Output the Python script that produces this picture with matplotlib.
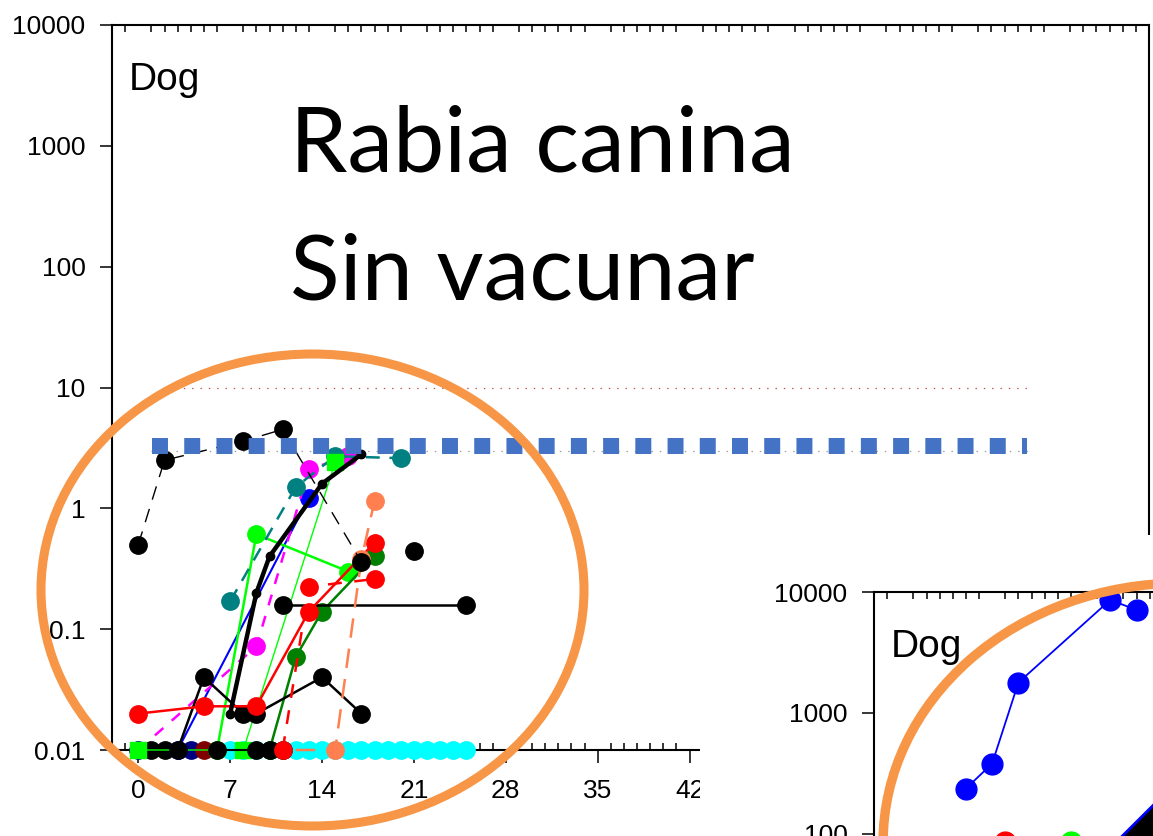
import matplotlib
matplotlib.use("Agg")
import matplotlib.pyplot as plt
import matplotlib.ticker as mticker
from matplotlib.patches import Ellipse, Rectangle, Polygon

plt.rcParams['font.family'] = ['Liberation Sans', 'DejaVu Sans']
plt.rcParams['lines.scale_dashes'] = False

W, H, DPI = 1153, 836, 100

# ---------------- data ----------------
x_major = [0, 7, 14, 21, 28, 35, 42, 49, 56, 63, 70]
x_labels = ['0', '7', '14', '21', '28', '35', '42', '49', '56', '63', '70']
y_major = [0.01, 0.1, 1, 10, 100, 1000, 10000]
y_labels = ['0.01', '0.1', '1', '10', '100', '1000', '10000']
inset_y_major = [100, 1000, 10000]
inset_y_labels = ['100', '1000', '10000']

bk_dash_x = [0, 2, 8, 11, 17]
bk_dash_y = [0.5, 2.5, 3.6, 4.5, 0.36]
bk_thick_x = [7, 9, 10, 14, 17]
bk_thick_y = [0.02, 0.2, 0.4, 1.6, 2.8]
bk_low_x = [3, 5, 8, 9, 14, 17]
bk_low_y = [0.01, 0.04, 0.02, 0.02, 0.04, 0.02]
bk_flat_x = [11, 25]
bk_flat_y = [0.16, 0.16]
bk_base_x = [6, 9, 10, 11]
bk_base_y = [0.01, 0.01, 0.01, 0.01]
bk_early_x = [1, 2]
bk_early_y = [0.01, 0.01]
bk_single_x = [21]
bk_single_y = [0.44]
red_a_x = [0, 5, 9, 13, 18]
red_a_y = [0.02, 0.023, 0.023, 0.14, 0.52]
red_b_x = [11, 13, 18]
red_b_y = [0.01, 0.225, 0.26]
lime_c_x = [6, 9, 16]
lime_c_y = [0.01, 0.61, 0.30]
lime_s_x = [0, 8, 15]
lime_s_y = [0.01, 0.01, 2.4]
teal_x = [7, 12, 15, 20]
teal_y = [0.17, 1.5, 2.7, 2.6]
mag_x = [0, 9, 13, 16]
mag_y = [0.01, 0.072, 2.1, 2.7]
blue_x = [3, 13]
blue_y = [0.01, 1.22]
dgreen_x = [10, 12, 14, 18]
dgreen_y = [0.01, 0.059, 0.14, 0.40]
orange_x = [12, 15, 17, 18]
orange_y = [0.01, 0.01, 0.38, 1.15]
navy_x = [0, 4]
navy_y = [0.01, 0.01]
maroon_x = [5]
maroon_y = [0.01]
cyan_x = [7, 8, 9, 10, 11, 12, 13, 14, 15, 16, 17, 18, 19, 20, 21, 22, 23, 24, 25]
cyan_y = [0.01, 0.01, 0.01, 0.01, 0.01, 0.01, 0.01, 0.01, 0.01, 0.01,
          0.01, 0.01, 0.01, 0.01, 0.01, 0.01, 0.01, 0.01, 0.01]

ref_hi_x = [2.8, 68]
ref_hi_y = [10, 10]
ref_lo_x = [1, 68]
ref_lo_y = [3, 3]
ref_sq_x = [1.02, 67.7]
ref_sq_y = [3.3, 3.3]

inset_x = [5, 7, 9, 16, 18]
inset_y = [236, 380, 1780, 8600, 7100]
inset_red_x = [8]
inset_red_y = [85]
inset_green_x = [13]
inset_green_y = [85]
inset_tri_x = [16.2, 20.0, 20.0]
inset_tri_y = [80, 206, 80]

# ---------------- figure ----------------
fig = plt.figure(figsize=(W / DPI, H / DPI), dpi=DPI, facecolor='white')


def px_axes(left, top, right, bottom):
    return [left / W, 1 - bottom / H, (right - left) / W, (bottom - top) / H]


minor_days = [d for d in range(-2, 78) if d % 7 != 0]


def style_axes(ax, yt, yl, xlabels=True):
    ax.set_yscale('log')
    ax.set_xlim(-2, 77)
    ax.set_ylim(0.01, 10000)
    ax.set_xticks(x_major)
    ax.set_xticklabels(x_labels if xlabels else [])
    ax.set_yticks(yt)
    ax.set_yticklabels(yl)
    ax.xaxis.set_minor_locator(mticker.FixedLocator(minor_days))
    ax.yaxis.set_minor_locator(mticker.NullLocator())
    ax.tick_params(axis='x', which='major', direction='out', length=9, width=1.1,
                   top=False, bottom=True, labelsize=19, pad=12,
                   labelbottom=xlabels)
    ax.tick_params(axis='x', which='minor', direction='in', length=5, width=1.1,
                   top=True, bottom=True)
    ax.tick_params(axis='y', which='major', direction='out', length=9, width=1.1,
                   left=True, right=False, labelsize=19, pad=10)
    for s in ax.spines.values():
        s.set_linewidth(1.5)
    ax.text(0.0157, 0.9103, 'Dog', transform=ax.transAxes, fontsize=28,
            ha='left', va='baseline')


ax = fig.add_axes(px_axes(112, 25, 1149, 750))
ax.set_zorder(0)
style_axes(ax, y_major, y_labels)

BIG = 12.5


def series(x, y, color, lw=1.5, dashes=None, marker='o', ms=BIG, z=3, markevery=None):
    kw = dict(color=color, lw=lw, marker=marker, ms=ms, mfc=color, mec=color,
              zorder=z, clip_on=False, markevery=markevery)
    if dashes is not None:
        kw['dashes'] = dashes
    ax.plot(x, y, **kw)


# reference lines
ax.plot(ref_hi_x, ref_hi_y, color='#C0504D', lw=0.9, dashes=(1, 5), zorder=2)
ax.plot(ref_lo_x, ref_lo_y, color='#9A9A9A', lw=0.9, dashes=(1, 5), zorder=2)

# data series (bottom to top)
series(cyan_x, cyan_y, '#00FFFF', lw=1.2, z=3)
series(navy_x, navy_y, '#000080', lw=1.2, z=3.1)
series(maroon_x, maroon_y, '#800000', lw=1.2, z=3.2)
series(bk_early_x, bk_early_y, 'black', lw=1.2, z=3.3)
series(blue_x, blue_y, '#0000FF', lw=1.5, z=3.4)
series(lime_c_x, lime_c_y, '#00FF00', lw=1.8, z=3.6)
series(mag_x, mag_y, '#FF00FF', lw=1.8, dashes=(8, 8), z=3.7, markevery=[1, 2, 3])
series(teal_x, teal_y, '#008080', lw=1.8, dashes=(10, 7), z=3.8)
series(lime_s_x, lime_s_y, '#00FF00', lw=1.0, marker='s', ms=11.5, z=3.85)
series(dgreen_x, dgreen_y, '#008000', lw=1.8, z=3.9)
series(bk_base_x, bk_base_y, 'black', lw=1.5, z=4.0)
series(bk_low_x, bk_low_y, 'black', lw=1.8, z=4.1)
series(bk_flat_x, bk_flat_y, 'black', lw=1.8, z=4.2)
series(bk_single_x, bk_single_y, 'black', lw=1.5, z=4.2)
series(red_a_x, red_a_y, '#FF0000', lw=1.8, z=4.3)
series(red_b_x, red_b_y, '#FF0000', lw=1.8, dashes=(10, 9), z=4.4)
series(orange_x, orange_y, '#FF7F50', lw=1.8, dashes=(14, 8), z=4.5, markevery=[1, 2, 3])
series(bk_dash_x, bk_dash_y, 'black', lw=1.0, dashes=(10, 7), z=4.6)
series(bk_thick_x, bk_thick_y, 'black', lw=3.2, ms=6, z=4.7)

# thick blue square reference line
ax.plot(ref_sq_x, ref_sq_y, color='#4472C4', lw=11.5, dashes=(11.5, 11.7),
        solid_capstyle='butt', dash_capstyle='butt', zorder=5)

# orange highlight ellipse on main chart
fig.add_artist(Ellipse((312.5 / W, 1 - 590 / H), 543 / W, 472 / H,
                       transform=fig.transFigure, fill=False,
                       edgecolor='#F79646', lw=6.5, zorder=3))

# white area hosting the inset picture
fig.add_artist(Rectangle((700 / W, 0), (W - 700) / W, (836 - 535) / H,
                         transform=fig.transFigure, facecolor='white',
                         edgecolor='none', zorder=5))

# inset chart (same scales, shifted)
axi = fig.add_axes(px_axes(874, 592, 874 + 1037, 592 + 725))
axi.set_zorder(10)
style_axes(axi, inset_y_major, inset_y_labels, xlabels=False)
axi.plot(inset_x, inset_y, color='#0000FF', lw=1.3, marker='o', ms=15,
         mfc='#0000FF', mec='#0000FF', zorder=3)
axi.plot(inset_red_x, inset_red_y, 'o', color='#FF0000', ms=15, zorder=3)
axi.plot(inset_green_x, inset_green_y, 'o', color='#00FF00', ms=15, zorder=3)
axi.add_patch(Polygon(list(zip(inset_tri_x, inset_tri_y)), closed=True,
                      facecolor='black', edgecolor='#0000FF', lw=2, zorder=4))

fig.add_artist(Ellipse((1181.6 / W, 1 - 842.6 / H), 597 / W, 519 / H,
                       transform=fig.transFigure, fill=False,
                       edgecolor='#F79646', lw=6.8, zorder=12))

# big overlay title
title_font = ['Lato', 'DejaVu Sans']
fig.text(290 / W, 1 - 172 / H, 'Rabia canina', fontsize=66, family=title_font,
         ha='left', va='baseline', zorder=20)
fig.text(290 / W, 1 - 300 / H, 'Sin vacunar', fontsize=66, family=title_font,
         ha='left', va='baseline', zorder=20)

fig.savefig('out.png', dpi=DPI, facecolor='white')
